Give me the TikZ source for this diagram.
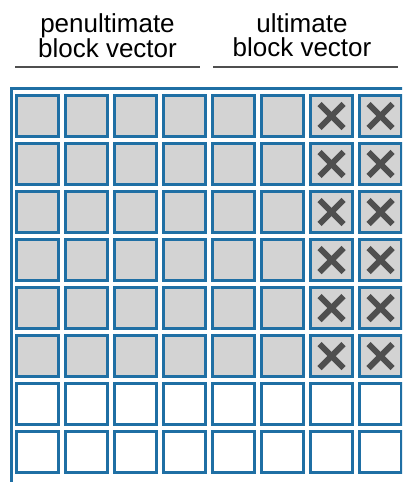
\documentclass[tikz,border=0pt]{standalone}
\usepackage{fontspec}
\setmainfont{Liberation Sans}

\definecolor{azulborde}{HTML}{1F6FA4}
\definecolor{grisclaro}{HTML}{D3D3D3}
\definecolor{grisoscuro}{HTML}{4F4F4F}

\begin{document}
\begin{tikzpicture}[x=1pt, y=-1pt,
    celda/.style={draw=azulborde, line width=3pt, inner sep=0pt,
                  minimum width=42pt, minimum height=41pt},
    cruz/.style={grisoscuro, line width=6pt},
    subraya/.style={grisoscuro, line width=2.5pt},
    rotulo/.style={align=center, inner sep=0pt, anchor=north,
                   font=\fontsize{26}{24}\selectfont}]

  % --- Marco ---
  \useasboundingbox (0,0) rectangle (402,482);
  \clip (0,0) rectangle (402,482);

  % --- Rotulos y subrayados ---
  \node[rotulo] (penult) at (107.5,13) {penultimate\\block vector};
  \node[rotulo] (ult)    at (302,13)   {ultimate\\block vector};
  \draw[subraya] (15,67)  -- (200,67);
  \draw[subraya] (213,67) -- (398,67);

  % --- Borde exterior ---
  \draw[azulborde, line width=3pt] (11.5,490) -- (11.5,88.5) -- (410,88.5);

  % --- Celdas grises (filas 0-5) ---
  \foreach \fila in {0,...,5}
    \foreach \col in {0,...,7}
      \node[celda, fill=grisclaro] (c-\fila-\col)
        at ({37.5+49*\col}, {116+48*\fila}) {};

  % --- Celdas blancas (filas 6-7) ---
  \foreach \fila in {6,7}
    \foreach \col in {0,...,7}
      \node[celda, fill=white] (c-\fila-\col)
        at ({37.5+49*\col}, {116+48*\fila}) {};

  % --- Cruces en el ultimo vector ---
  \foreach \fila in {0,...,5}
    \foreach \col in {6,7} {
      \draw[cruz] ([shift={(-12,-12)}]c-\fila-\col.center)
               -- ([shift={(12,12)}]c-\fila-\col.center);
      \draw[cruz] ([shift={(-12,12)}]c-\fila-\col.center)
               -- ([shift={(12,-12)}]c-\fila-\col.center);
    }

\end{tikzpicture}
\end{document}
